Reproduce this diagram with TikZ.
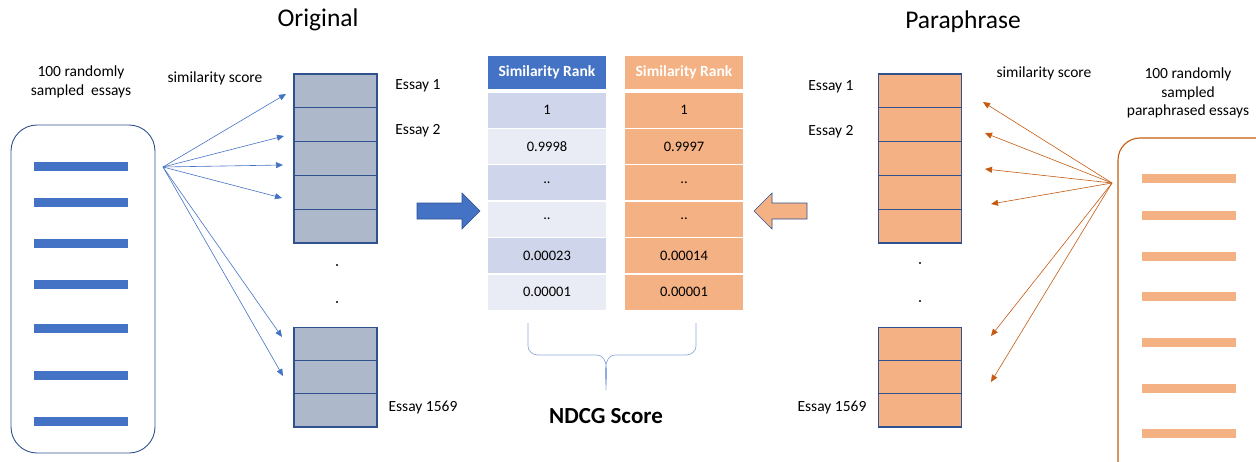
\documentclass[tikz,border=0pt]{standalone}
\usepackage{fontspec}
\setmainfont{Carlito}
\usetikzlibrary{positioning,arrows.meta}

\definecolor{kek}{HTML}{4472C4}
\definecolor{keksor1}{HTML}{CFD5EA}
\definecolor{keksor2}{HTML}{E9EBF5}
\definecolor{szurke}{HTML}{ADB9CA}
\definecolor{narancs}{HTML}{F4B183}
\definecolor{sotetnarancs}{HTML}{C55A11}
\definecolor{keret}{HTML}{2F528F}
\definecolor{kapocs}{HTML}{8FAADC}

\begin{document}
\begin{tikzpicture}[x=1pt,y=-1pt,
	felirat/.style={font=\fontsize{15.5}{18.5}\selectfont, align=center, inner sep=0pt},
	cim/.style={font=\fontsize{25.5}{29}\selectfont, inner sep=0pt},
	cella/.style={draw=keret, line width=1.1pt, minimum width=83pt, minimum height=33.8pt, inner sep=0pt},
	sor/.style={minimum width=118pt, minimum height=35pt, inner sep=0pt, font=\fontsize{14.5}{17}\selectfont},
	fej/.style={sor, font=\fontsize{15.5}{18}\selectfont\bfseries, text=white},
	nyil/.style={-{Triangle[length=7pt,width=6pt]}, line width=0.6pt}]
	\useasboundingbox (0,0) rectangle (1256,461);
	
	% cimek
	\node[cim] (orig) at (318,20) {Original};
	\node[cim] (para) at (963,22) {Paraphrase};
	
	% bal doboz
	\node[felirat] (balszoveg) at (81,82) {100 randomly\\sampled\ \ essays};
	\draw[keret, line width=0.9pt, rounded corners=26pt] (11,125) rectangle (155,453);
	\foreach \y in {166,202,243,284,328,375,421}
		\fill[kek] (34,\y-4.5) rectangle (128,\y+4.5);
	
	% jobb doboz
	\node[felirat] (jobbszoveg) at (1188,93) {100 randomly\\sampled\\paraphrased essays};
	\begin{scope}
		\clip (0,0) rectangle (1256,461);
		\draw[sotetnarancs, line width=1.1pt, rounded corners=22pt] (1118,138) rectangle (1300,520);
	\end{scope}
	\foreach \y in {178,215,256,296,342,388,433}
		\fill[narancs] (1142,\y-4.5) rectangle (1236,\y+4.5);
	
	% bal oszlop
	\foreach \i in {0,...,4}
		\node[cella, fill=szurke] (o\i) at (335.5,90.9+\i*33.8) {};
	\foreach \i in {0,...,2}
		\node[cella, fill=szurke, minimum height=33.3pt] (ol\i) at (335.5,343.7+\i*33.3) {};
	\fill (337,265) circle (1.2pt);
	\fill (337,302) circle (1.2pt);
	\node[felirat] (oe1) at (418,86) {Essay 1};
	\node[felirat] (oe2) at (418,131) {Essay 2};
	\node[felirat] (oen) at (423,408) {Essay 1569};
	
	% jobb oszlop
	\foreach \i in {0,...,4}
		\node[cella, fill=narancs] (p\i) at (920,90.9+\i*33.8) {};
	\foreach \i in {0,...,2}
		\node[cella, fill=narancs, minimum height=33.3pt] (pl\i) at (920,343.7+\i*33.3) {};
	\fill (920,263) circle (1.2pt);
	\fill (920,301) circle (1.2pt);
	\node[felirat] (pe1) at (831,87) {Essay 1};
	\node[felirat] (pe2) at (831,132) {Essay 2};
	\node[felirat] (pen) at (832,408) {Essay 1569};
	
	% hasonlosag nyilak (bal)
	\node[felirat] (hasb) at (215,78) {similarity score};
	\coordinate (bf) at (163,167);
	\foreach \x/\y in {286/94,284/136,283/165,282/198,282/337,283/376}
		\draw[nyil, kek] (bf) -- (\x,\y);
	
	% hasonlosag nyilak (jobb)
	\node[felirat] (hasj) at (1044,73) {similarity score};
	\coordinate (jf) at (1112,183);
	\foreach \x/\y in {983/102,985/133,985/169,991/204,991/336,991/382}
		\draw[nyil, sotetnarancs] (jf) -- (\x,\y);
	
	% rang tablak
	\node[fej, fill=kek, minimum height=33pt] (rb) at (547,72.5) {Similarity Rank};
	\node[fej, fill=narancs, minimum height=33pt] (rj) at (684,72.5) {Similarity Rank};
	\foreach \v/\w [count=\i from 0] in {1/1,0.9998/0.9997,../..,../..,0.00023/0.00014,0.00001/0.00001}{
		\pgfmathsetmacro{\szin}{mod(\i,2)==0 ? "keksor1" : "keksor2"}
		\node[sor, fill=\szin] (rb\i) at (547,110+\i*36.4) {\v};
		\node[sor, fill=narancs] (rj\i) at (684,110+\i*36.4) {\w};
	}
	
	% tomb nyilak
	\draw[fill=kek, draw=keret, line width=0.6pt] (417,203) -- (462,203) -- (462,193) -- (480,211) -- (462,229) -- (462,219) -- (417,219) -- cycle;
	\draw[fill=narancs, draw=keret, line width=0.6pt] (807,203) -- (772,203) -- (772,193) -- (754,211) -- (772,229) -- (772,219) -- (807,219) -- cycle;
	
	% kapocs
	\draw[kapocs, line width=0.7pt] (528,323) -- (528,346) to[out=-90,in=180] (538,355) -- (596,355) to[out=0,in=90] (606,390)
		to[out=90,in=180] (616,355) -- (686,355) to[out=0,in=-90] (696,346) -- (696,323);
	\node[cim, font=\fontsize{23}{27}\selectfont\bfseries] (ndcg) at (606,416) {NDCG Score};
\end{tikzpicture}
\end{document}
